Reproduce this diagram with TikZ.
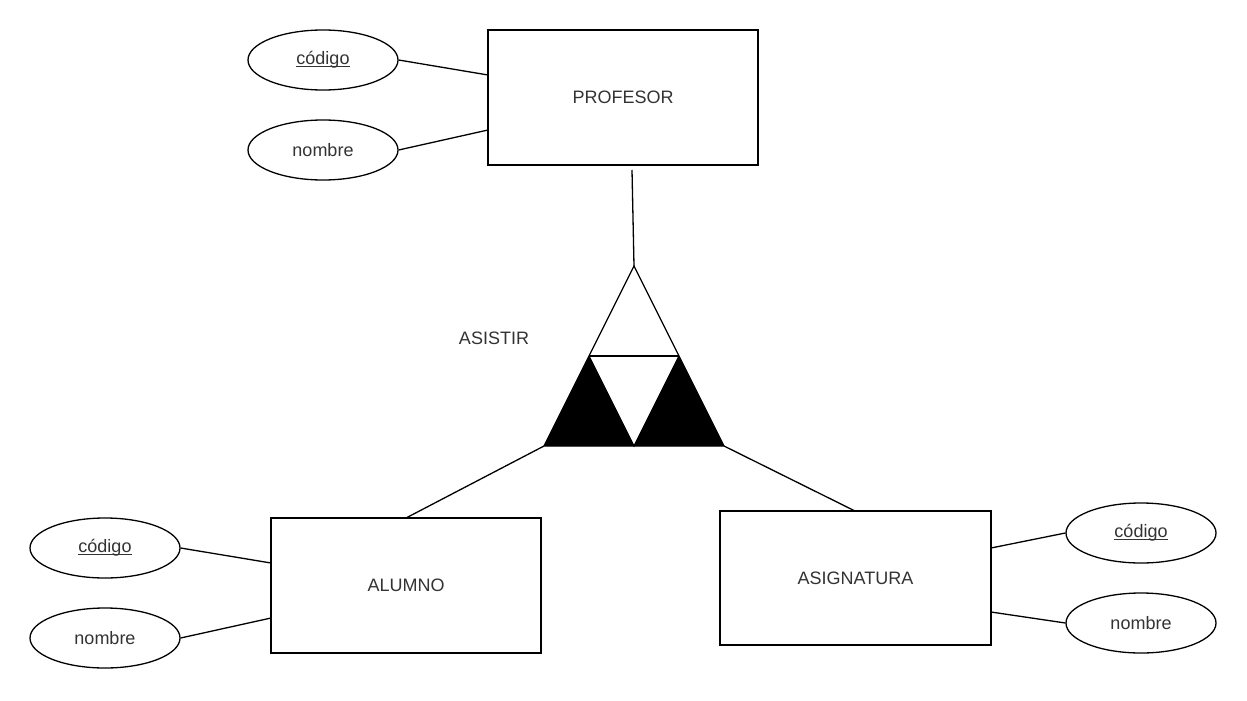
\documentclass[tikz,border=0pt]{standalone}
\usepackage{fontspec}
\setmainfont{Liberation Sans}
\usetikzlibrary{shapes.geometric,calc}
\definecolor{txt}{HTML}{333333}
\newcommand\myul[1]{\leavevmode\setbox0\hbox{#1}\rlap{\rule[-2.2pt]{\wd0}{1.1pt}}\box0}
\begin{document}
\begin{tikzpicture}[x=1pt,y=-1pt,
  ent/.style={draw=black,line width=1.4pt,fill=white,minimum width=270pt,minimum height=135pt,inner sep=0pt,text=txt,font=\fontsize{18}{20}\selectfont},
  attr/.style={draw=black,line width=1.3pt,ellipse,minimum width=150pt,minimum height=60pt,inner sep=0pt,text=txt,font=\fontsize{18}{20}\selectfont},
  conn/.style={draw=black,line width=1.3pt},
  lbl/.style={text=txt,font=\fontsize{18}{20}\selectfont,inner sep=0pt}]
\useasboundingbox[fill=white] (0,0) rectangle (1247,701);

% entities
\node[ent] (prof) at (623,97.5) {PROFESOR};
\node[ent] (alum) at (406,585.5) {ALUMNO};
\node[ent,minimum width=271pt,minimum height=134pt] (asig) at (855.5,578) {ASIGNATURA};

% attributes
\node[attr] (pcod) at (323,60) {\myul{código}};
\node[attr] (pnom) at (323,150) {nombre};
\node[attr] (acod) at (105,548) {\myul{código}};
\node[attr] (anom) at (105,638) {nombre};
\node[attr] (scod) at (1141,533) {\myul{código}};
\node[attr] (snom) at (1141,623) {nombre};

% attachment points on the entities
\coordinate (p1) at (488,75);
\coordinate (p2) at (488,130);
\coordinate (pb) at (632,170);
\coordinate (a1) at (271,563);
\coordinate (a2) at (271,618);
\coordinate (at) at (406,518);
\coordinate (s1) at (991,548);
\coordinate (s2) at (991,612);
\coordinate (st) at (855,511);

% relationship triangle
\coordinate (tA) at (634,266);
\coordinate (tL) at (544,446);
\coordinate (tR) at (724,446);
\coordinate (mL) at (589,356);
\coordinate (mR) at (679,356);
\coordinate (mB) at (634,446);
\fill[black] (tL) -- (mL) -- (mB) -- cycle;
\fill[black] (mB) -- (mR) -- (tR) -- cycle;
\draw[conn,line join=miter] (tA) -- (tL) -- (tR) -- cycle;
\draw[conn] (mL) -- (mR);
\draw[conn] (mL) -- (mB) -- (mR);
\node[lbl] (asistir) at (494,338) {ASISTIR};

% connectors
\draw[conn] (pcod.east) -- (p1);
\draw[conn] (pnom.east) -- (p2);
\draw[conn] (acod.east) -- (a1);
\draw[conn] (anom.east) -- (a2);
\draw[conn] (scod.west) -- (s1);
\draw[conn] (snom.west) -- (s2);
\draw[conn] (pb) -- (tA);
\draw[conn] (tL) -- (at);
\draw[conn] (tR) -- (st);
\end{tikzpicture}
\end{document}
